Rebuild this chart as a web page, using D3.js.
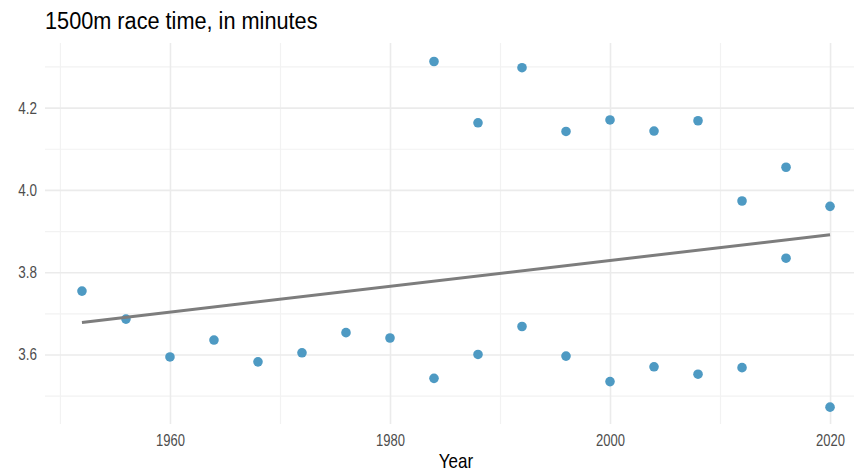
<!DOCTYPE html>
<html>
<head>
<meta charset="utf-8">
<script src="https://cdn.jsdelivr.net/npm/d3@7"></script>
<style>
  body { margin: 0; background: #fff; }
  text { font-family: "Liberation Sans", Arial, sans-serif; }
</style>
</head>
<body>
<div id="chart"></div>
<script>
// data
var lowYears = [1952, 1956, 1960, 1964, 1968, 1972, 1976, 1980, 1984, 1988, 1992, 1996, 2000, 2004, 2008, 2012, 2016, 2020];
var lowTimes = [3.754, 3.686, 3.594, 3.635, 3.582, 3.604, 3.653, 3.640, 3.542, 3.600, 3.668, 3.596, 3.534, 3.570, 3.552, 3.568, 3.834, 3.472];
var highYears = [1984, 1988, 1992, 1996, 2000, 2004, 2008, 2012, 2016, 2020];
var highTimes = [4.312, 4.163, 4.297, 4.142, 4.170, 4.143, 4.168, 3.973, 4.055, 3.960];

var xMajor = [1960, 1980, 2000, 2020];
var xMinor = [1950, 1970, 1990, 2010];
var yMajor = [3.6, 3.8, 4.0, 4.2];
var yMinor = [3.5, 3.7, 3.9, 4.1, 4.3];

var W = 854, H = 471;
var margin = {top: 43, right: -13, bottom: 47, left: 45},
    width = W - margin.left - margin.right,
    height = H - margin.top - margin.bottom;

var svg = d3.select("#chart")
    .append("svg")
    .attr("width", W)
    .attr("height", H);

var g = svg.append("g")
    .attr("transform", "translate(" + margin.left + "," + margin.top + ")");

var x = d3.scaleLinear().domain([1948.64, 2023.36]).range([0, width]);
var y = d3.scaleLinear().domain([3.431, 4.357]).range([height, 0]);

// minor grid
g.append("g")
    .attr("transform", "translate(0," + height + ")")
    .call(d3.axisBottom(x).tickValues(xMinor).tickSize(-height).tickFormat(""))
    .call(function(a) { a.select(".domain").remove(); a.selectAll("line").attr("stroke", "#f2f2f2").attr("stroke-width", 1.2); });
g.append("g")
    .call(d3.axisLeft(y).tickValues(yMinor).tickSize(-width).tickFormat(""))
    .call(function(a) { a.select(".domain").remove(); a.selectAll("line").attr("stroke", "#f2f2f2").attr("stroke-width", 1.2); });

// major grid + labels
var xAxis = g.append("g")
    .attr("transform", "translate(0," + height + ")")
    .call(d3.axisBottom(x).tickValues(xMajor).tickSize(-height).tickFormat(d3.format("d")));
xAxis.select(".domain").remove();
xAxis.selectAll("line").attr("stroke", "#ebebeb").attr("stroke-width", 1.6);
xAxis.selectAll("text")
    .attr("y", null).attr("dy", null)
    .attr("transform", "translate(0,22) scale(1,1.2)")
    .attr("fill", "#4d4d4d")
    .style("font-size", "13px");

var yAxis = g.append("g")
    .call(d3.axisLeft(y).tickValues(yMajor).tickSize(-width).tickFormat(d3.format(".1f")));
yAxis.select(".domain").remove();
yAxis.selectAll("line").attr("stroke", "#ebebeb").attr("stroke-width", 1.6);
yAxis.selectAll("text")
    .attr("x", null).attr("dy", null)
    .attr("transform", "translate(-8,5.5) scale(1,1.2)")
    .attr("fill", "#4d4d4d")
    .style("font-size", "13.5px");

// points
var points = lowYears.map(function(d, i) { return {year: d, time: lowTimes[i]}; })
    .concat(highYears.map(function(d, i) { return {year: d, time: highTimes[i]}; }));

// least squares line over all points
var mx = d3.mean(points, function(d) { return d.year; });
var my = d3.mean(points, function(d) { return d.time; });
var slope = d3.sum(points, function(d) { return (d.year - mx) * (d.time - my); }) /
            d3.sum(points, function(d) { return (d.year - mx) * (d.year - mx); });
var ends = d3.extent(points, function(d) { return d.year; });
var fit = ends.map(function(t) { return {year: t, time: my + slope * (t - mx)}; });

g.selectAll(".dot")
    .data(points)
    .enter()
    .append("circle")
    .attr("class", "dot")
    .attr("cx", function(d) { return x(d.year); })
    .attr("cy", function(d) { return y(d.time); })
    .attr("r", 4.8)
    .style("fill", "#4e9ac3");

g.append("path")
    .datum(fit)
    .attr("fill", "none")
    .attr("stroke", "#7d7d7d")
    .attr("stroke-width", 3)
    .attr("d", d3.line()
        .x(function(d) { return x(d.year); })
        .y(function(d) { return y(d.time); }));

// titles
svg.append("text")
    .attr("transform", "translate(45,29) scale(1,1.08)")
    .style("font-size", "21.7px")
    .attr("fill", "#000")
    .text("1500m race time, in minutes");

svg.append("text")
    .attr("transform", "translate(" + (margin.left + width / 2) + ",468) scale(1,1.2)")
    .attr("text-anchor", "middle")
    .style("font-size", "17px")
    .attr("fill", "#000")
    .text("Year");
</script>
</body>
</html>
